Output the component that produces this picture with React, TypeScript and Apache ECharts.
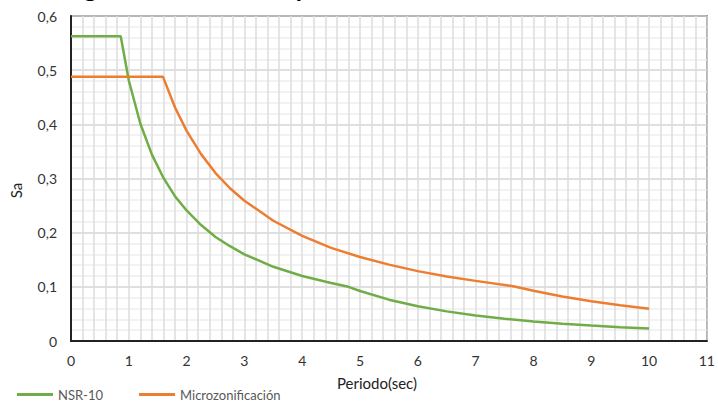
import React, { useEffect, useRef } from "react";
import * as echarts from "echarts";

const title = "Diagrama de ambos espectros";
const seriesNames = ["NSR-10", "Microzonificación"];
const xTicks = [0, 1, 2, 3, 4, 5, 6, 7, 8, 9, 10, 11];
const yTicks = [0, 0.1, 0.2, 0.3, 0.4, 0.5, 0.6];

const nsrT = [0, 0.86, 1.0, 1.2, 1.4, 1.6, 1.8, 2.0, 2.25, 2.5, 2.75, 3.0, 3.5, 4.0, 4.5, 4.8, 5.0, 5.5, 6.0, 6.5, 7.0, 7.5, 8.0, 8.5, 9.0, 9.5, 10.0];
const nsrSa = [0.5625, 0.5625, 0.481, 0.401, 0.344, 0.301, 0.267, 0.241, 0.214, 0.192, 0.175, 0.160, 0.137, 0.120, 0.107, 0.100, 0.0924, 0.0763, 0.0641, 0.0547, 0.0471, 0.0410, 0.0361, 0.0320, 0.0285, 0.0256, 0.0231];

const microT = [0, 1.59, 1.8, 2.0, 2.25, 2.5, 2.75, 3.0, 3.5, 4.0, 4.5, 5.0, 5.5, 6.0, 6.5, 7.0, 7.65, 8.0, 8.5, 9.0, 9.5, 10.0];
const microSa = [0.488, 0.488, 0.431, 0.388, 0.345, 0.310, 0.282, 0.259, 0.222, 0.194, 0.172, 0.155, 0.141, 0.129, 0.119, 0.111, 0.101, 0.0928, 0.0822, 0.0733, 0.0658, 0.0594];

const FONT = "Lato, 'Noto Sans', sans-serif";

export default function App() {
  const ref = useRef<HTMLDivElement>(null);
  useEffect(() => {
    if (!ref.current) return;
    const chart = echarts.init(ref.current, null, { renderer: "svg" });
    const fmt = (v: number) => (v === 0 ? "0" : v.toFixed(1).replace(".", ","));
    chart.setOption({
      animation: false,
      backgroundColor: "#ffffff",
      textStyle: { fontFamily: FONT },
      graphic: [
        {
          type: "text",
          left: 46,
          top: -26,
          style: { text: title, font: `bold 25px ${FONT}`, fill: "#000" },
        },
      ],
      grid: {
        left: 66,
        right: 9,
        top: 16,
        bottom: 61,
        show: true,
        borderColor: "#222",
        borderWidth: 1.5,
        containLabel: false,
      },
      legend: {
        left: 12,
        bottom: -4,
        itemWidth: 36,
        itemHeight: 3,
        itemGap: 36,
        icon: "rect",
        textStyle: { fontSize: 13, color: "#595959", fontFamily: FONT },
        data: seriesNames,
      },
      xAxis: {
        type: "value",
        min: xTicks[0],
        max: xTicks[xTicks.length - 1],
        interval: 1,
        name: "Periodo(sec)",
        nameLocation: "middle",
        nameGap: 34,
        nameTextStyle: { fontSize: 15, color: "#222", fontFamily: FONT, padding: [0, 24, 0, 0] },
        axisLine: { lineStyle: { color: "#222", width: 2 } },
        axisTick: { show: false },
        axisLabel: { fontSize: 14, color: "#333", margin: 12, fontFamily: FONT },
        splitLine: { show: true, lineStyle: { color: "#dcdcdc", width: 1.5 } },
        minorTick: { show: false, splitNumber: 5 },
        minorSplitLine: { show: true, lineStyle: { color: "#dcdcdc", width: 1.5 } },
      },
      yAxis: {
        type: "value",
        min: yTicks[0],
        max: yTicks[yTicks.length - 1],
        interval: 0.1,
        name: "Sa",
        nameLocation: "middle",
        nameGap: 48,
        nameTextStyle: { fontSize: 15, color: "#222", fontFamily: FONT, padding: [0, 0, 0, -24] },
        axisLine: { show: true, lineStyle: { color: "#222", width: 2 } },
        axisTick: { show: false },
        axisLabel: { fontSize: 14, color: "#333", margin: 14, formatter: fmt, fontFamily: FONT },
        splitLine: { show: true, lineStyle: { color: "#d6d6d6", width: 1.5 } },
        minorTick: { show: false, splitNumber: 5 },
        minorSplitLine: { show: true, lineStyle: { color: "#eeeeee", width: 1.5 } },
      },
      series: [
        {
          name: seriesNames[0],
          type: "line",
          showSymbol: false,
          symbol: "none",
          lineStyle: { color: "#70ad47", width: 2.5 },
          itemStyle: { color: "#70ad47" },
          data: nsrT.map((t, i) => [t, nsrSa[i]]),
        },
        {
          name: seriesNames[1],
          type: "line",
          showSymbol: false,
          symbol: "none",
          lineStyle: { color: "#ed7d31", width: 2.5 },
          itemStyle: { color: "#ed7d31" },
          data: microT.map((t, i) => [t, microSa[i]]),
        },
      ],
    });
    return () => chart.dispose();
  }, []);
  return <div ref={ref} style={{ width: 718, height: 402, position: "fixed", left: 0, top: 0 }} />;
}
